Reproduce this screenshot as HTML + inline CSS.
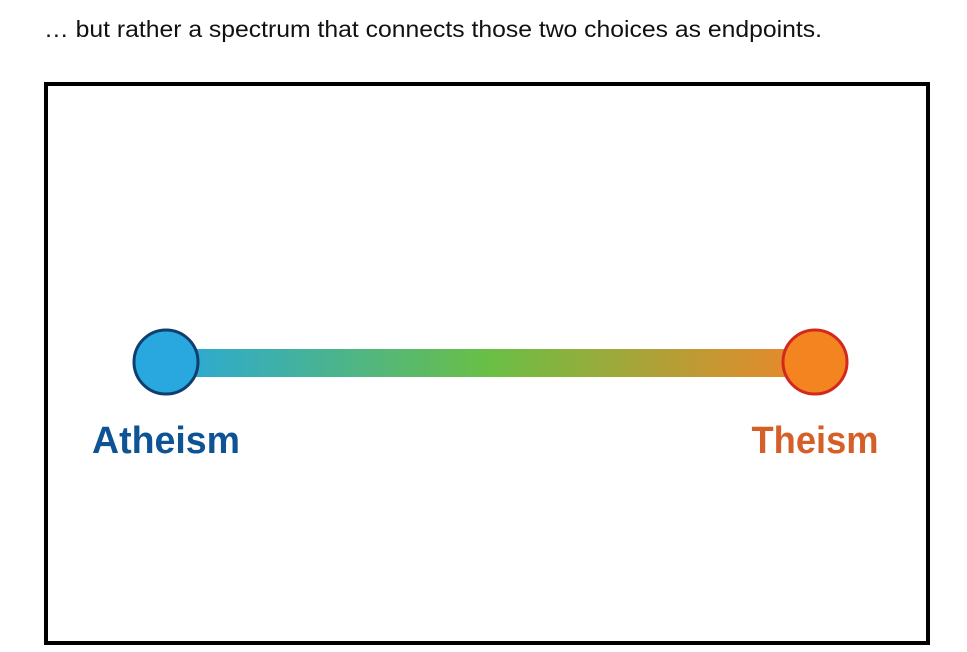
<!DOCTYPE html>
<html><head><meta charset="utf-8"><style>
html,body{margin:0;padding:0;background:#fff;width:967px;height:652px;overflow:hidden;font-family:"Liberation Sans",sans-serif}
</style></head><body>
<svg width="967" height="652" viewBox="0 0 967 652" xmlns="http://www.w3.org/2000/svg">
<defs><linearGradient id="g" x1="0" x2="1" y1="0" y2="0">
<stop offset="0" stop-color="#29a8dc"/><stop offset="0.5" stop-color="#6abf45"/><stop offset="1" stop-color="#f0852a"/></linearGradient></defs>
<text x="44" y="37" font-size="23" fill="#111" textLength="778" lengthAdjust="spacingAndGlyphs">… but rather a spectrum that connects those two choices as endpoints.</text>
<rect x="46" y="84" width="882" height="559" fill="#fff" stroke="#000" stroke-width="4"/>
<rect x="166" y="349" width="649" height="28" fill="url(#g)"/>
<circle cx="166" cy="362" r="32" fill="#29a8e0" stroke="#0f3f6e" stroke-width="3"/>
<circle cx="815" cy="362" r="32" fill="#f38420" stroke="#d3281f" stroke-width="3"/>
<text x="166" y="453" font-size="38" font-weight="bold" fill="#0e5494" text-anchor="middle" textLength="148" lengthAdjust="spacingAndGlyphs">Atheism</text>
<text x="815" y="453" font-size="38" font-weight="bold" fill="#d55f28" text-anchor="middle" textLength="127" lengthAdjust="spacingAndGlyphs">Theism</text>
</svg>
</body></html>
